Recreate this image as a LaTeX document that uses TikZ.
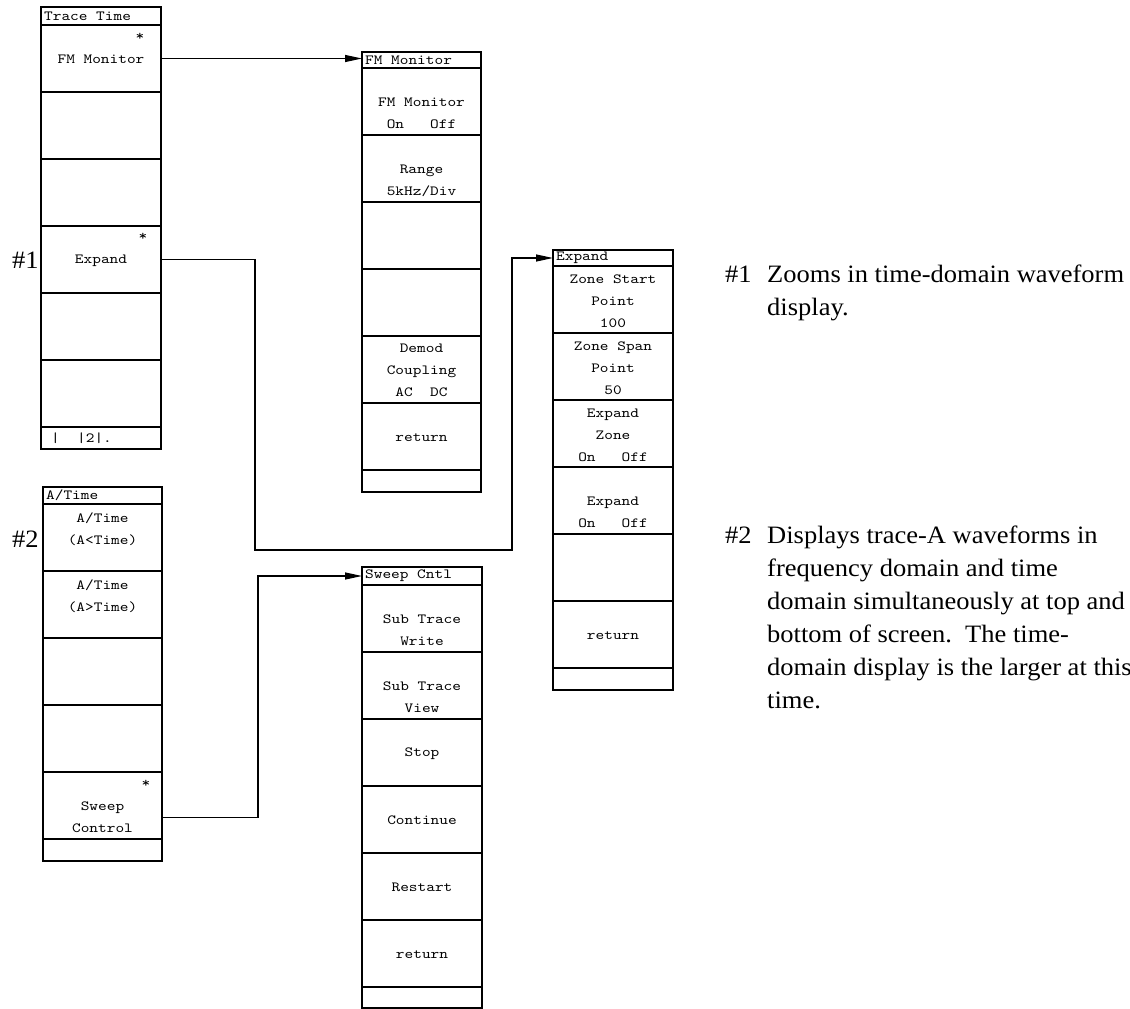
\documentclass[tikz,border=0pt]{standalone}
\usepackage{fontspec}
\setmainfont{Liberation Serif}
\newfontfamily\txtfont{Liberation Serif}[FakeStretch=1.06]
\newfontfamily\mfont{lmmono10-regular.otf}[FakeStretch=1.18]
\usetikzlibrary{arrows.meta,calc}
\newcommand\mcell[5]{\node[cell,minimum width=#4pt,minimum height=#5pt] (#1) at (#2,#3) {};}
\begin{document}
\begin{tikzpicture}[x=1pt,y=-1pt,
  cell/.style={draw, line width=1.2pt, rectangle, inner sep=0pt, outer sep=0pt, anchor=north west},
  mt/.style={font=\mfont\fontsize{14}{22}\selectfont, align=center, inner sep=0pt},
  ttl/.style={font=\mfont\fontsize{14}{22}\selectfont, anchor=west, inner sep=0pt},
  star/.style={font=\mfont\fontsize{14}{14}\selectfont, inner sep=0pt},
  arr/.style={line width=1.2pt, -{Triangle[length=17pt,width=7pt]}},
  note/.style={font=\txtfont\fontsize{25}{33}\selectfont, anchor=base west, inner sep=0pt}
]
\useasboundingbox (0,0) rectangle (1130,1009);

% ---------- Trace Time menu ----------
\mcell{tt0}{41}{7}{120}{18}
\mcell{tt1}{41}{25}{120}{67}
\mcell{tt2}{41}{92}{120}{67}
\mcell{tt3}{41}{159}{120}{67}
\mcell{tt4}{41}{226}{120}{67}
\mcell{tt5}{41}{293}{120}{67}
\mcell{tt6}{41}{360}{120}{67}
\mcell{tt7}{41}{427}{120}{22}
\node[ttl] (tt0t) at ($(tt0.west)+(3,0)$) {Trace Time};
\node[mt] (tt1t) at ($(tt1.center)+(0,1)$) {FM Monitor};
\node[star] (tt1s) at ($(tt1.north east)+(-21,12)$) {*};
\node[mt] (tt4t) at ($(tt4.center)+(0,1)$) {Expand};
\node[star] (tt4s) at ($(tt4.north east)+(-18,11)$) {*};
\node[ttl] (tt7t) at ($(tt7.west)+(10,0)$) {|\ \ |2|.};

% ---------- FM Monitor menu ----------
\mcell{fm0}{362}{52}{119}{16}
\mcell{fm1}{362}{68}{119}{67}
\mcell{fm2}{362}{135}{119}{67}
\mcell{fm3}{362}{202}{119}{67}
\mcell{fm4}{362}{269}{119}{67}
\mcell{fm5}{362}{336}{119}{67}
\mcell{fm6}{362}{403}{119}{67}
\mcell{fm7}{362}{470}{119}{22}
\node[ttl] (fm0t) at ($(fm0.west)+(3,0)$) {FM Monitor};
\node[mt] (fm1t) at ($(fm1.center)+(0,12)$) {FM Monitor\\On\ \ \ Off};
\node[mt] (fm2t) at ($(fm2.center)+(0,12)$) {Range\\5kHz/Div};
\node[mt] (fm5t) at ($(fm5.center)+(0,1)$) {Demod\\Coupling\\AC\ \ DC};
\node[mt] (fm6t) at ($(fm6.center)+(0,1)$) {return};

% ---------- Expand menu ----------
\mcell{ex0}{553}{250}{120}{16}
\mcell{ex1}{553}{266}{120}{67}
\mcell{ex2}{553}{333}{120}{67}
\mcell{ex3}{553}{400}{120}{67}
\mcell{ex4}{553}{467}{120}{67}
\mcell{ex5}{553}{534}{120}{67}
\mcell{ex6}{553}{601}{120}{67}
\mcell{ex7}{553}{668}{120}{22}
\node[ttl] (ex0t) at ($(ex0.west)+(3,0)$) {Expand};
\node[mt] (ex1t) at ($(ex1.center)+(0,2)$) {Zone Start\\Point\\100};
\node[mt] (ex2t) at ($(ex2.center)+(0,2)$) {Zone Span\\Point\\50};
\node[mt] (ex3t) at ($(ex3.center)+(0,2)$) {Expand\\Zone\\On\ \ \ Off};
\node[mt] (ex4t) at ($(ex4.center)+(0,12)$) {Expand\\On\ \ \ Off};
\node[mt] (ex6t) at ($(ex6.center)+(0,1)$) {return};

% ---------- A/Time menu ----------
\mcell{at0}{43}{487}{119}{17}
\mcell{at1}{43}{504}{119}{67}
\mcell{at2}{43}{571}{119}{67}
\mcell{at3}{43}{638}{119}{67}
\mcell{at4}{43}{705}{119}{67}
\mcell{at5}{43}{772}{119}{67}
\mcell{at6}{43}{839}{119}{22}
\node[ttl] (at0t) at ($(at0.west)+(3,0)$) {A/Time};
\node[mt] (at1t) at ($(at1.center)+(0,-8)$) {A/Time\\(A<Time)};
\node[mt] (at2t) at ($(at2.center)+(0,-8)$) {A/Time\\(A>Time)};
\node[mt] (at5t) at ($(at5.center)+(0,12)$) {Sweep\\Control};
\node[star] (at5s) at ($(at5.north east)+(-16,12)$) {*};

% ---------- Sweep Cntl menu ----------
\mcell{sw0}{362}{567}{120}{18}
\mcell{sw1}{362}{585}{120}{67}
\mcell{sw2}{362}{652}{120}{67}
\mcell{sw3}{362}{719}{120}{67}
\mcell{sw4}{362}{786}{120}{67}
\mcell{sw5}{362}{853}{120}{67}
\mcell{sw6}{362}{920}{120}{67}
\mcell{sw7}{362}{987}{120}{21}
\node[ttl] (sw0t) at ($(sw0.west)+(3,0)$) {Sweep Cntl};
\node[mt] (sw1t) at ($(sw1.center)+(0,12)$) {Sub Trace\\Write};
\node[mt] (sw2t) at ($(sw2.center)+(0,12)$) {Sub Trace\\View};
\node[mt] (sw3t) at ($(sw3.center)+(0,1)$) {Stop};
\node[mt] (sw4t) at ($(sw4.center)+(0,1)$) {Continue};
\node[mt] (sw5t) at ($(sw5.center)+(0,1)$) {Restart};
\node[mt] (sw6t) at ($(sw6.center)+(0,1)$) {return};

% ---------- connectors ----------
\coordinate (c1) at (255,550);
\coordinate (c2) at (512,550);
\coordinate (c3) at (258,576);
\draw[arr] (tt1.east) -- (tt1.east -| fm0.west);
\draw[arr] (tt4.east) -| (c1) -- (c2) |- (ex0.west);
\draw[arr] (at5t -| at5.east) -| (c3) -- (sw0.west);

% ---------- markers ----------
\node[note, anchor=west] (m1) at (12,260) {\#1};
\node[note, anchor=west] (m2) at (12,539) {\#2};

% ---------- notes ----------
\node[note] (n1l) at (725,282) {\#1};
\node[note] (n1a) at (767,282) {Zooms in time-domain waveform};
\node[note] (n1b) at (767,315) {display.};
\node[note] (n2l) at (725,543) {\#2};
\node[note] (n2a) at (767,543) {Displays trace-A waveforms in};
\node[note] (n2b) at (767,576) {frequency domain and time};
\node[note] (n2c) at (767,609) {domain simultaneously at top and};
\node[note] (n2d) at (767,642) {bottom of screen.\ \ The time-};
\node[note] (n2e) at (767,675) {domain display is the larger at this};
\node[note] (n2f) at (767,708) {time.};
\end{tikzpicture}
\end{document}
